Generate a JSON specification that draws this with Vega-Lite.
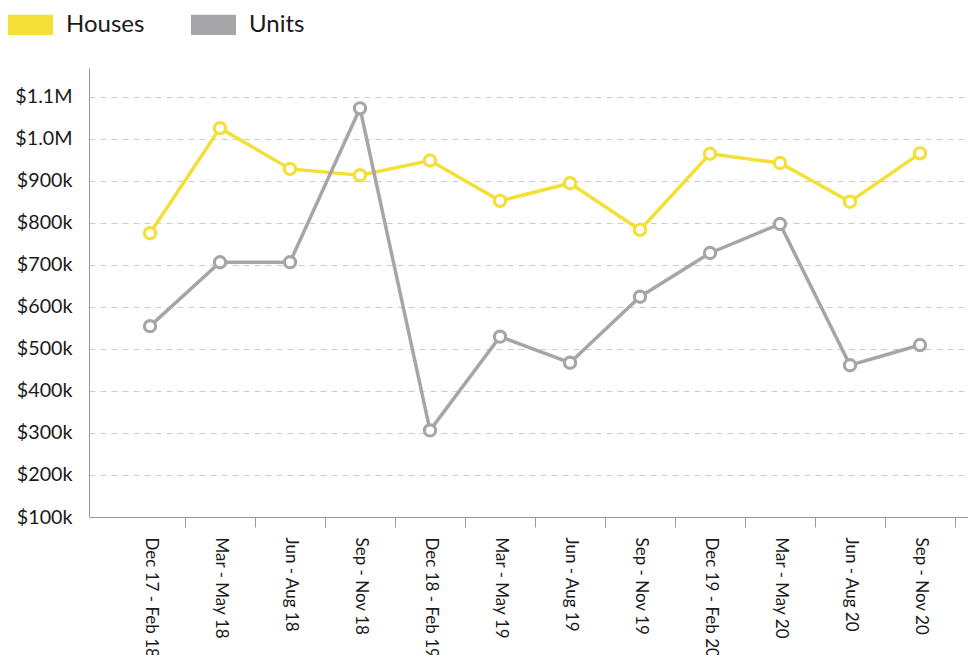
{
  "$schema": "https://vega.github.io/schema/vega-lite/v6.json",
  "autosize": {"type": "none"},
  "width": 879,
  "height": 449,
  "padding": {"left": 89, "top": 68, "right": 0, "bottom": 138},
  "background": "white",
  "config": {
    "view": {"stroke": null},
    "font": "Lato",
    "axis": {"labelFont": "Lato", "labelColor": "#1a1a1a"},
    "legend": {"labelFont": "Lato", "labelColor": "#1a1a1a"}
  },
  "data": {
    "values": [
      {"period": "Dec 17 - Feb 18", "type": "Houses", "price": 775000},
      {"period": "Mar - May 18", "type": "Houses", "price": 1025000},
      {"period": "Jun - Aug 18", "type": "Houses", "price": 928000},
      {"period": "Sep - Nov 18", "type": "Houses", "price": 913000},
      {"period": "Dec 18 - Feb 19", "type": "Houses", "price": 948000},
      {"period": "Mar - May 19", "type": "Houses", "price": 852000},
      {"period": "Jun - Aug 19", "type": "Houses", "price": 894000},
      {"period": "Sep - Nov 19", "type": "Houses", "price": 783000},
      {"period": "Dec 19 - Feb 20", "type": "Houses", "price": 964000},
      {"period": "Mar - May 20", "type": "Houses", "price": 942000},
      {"period": "Jun - Aug 20", "type": "Houses", "price": 850000},
      {"period": "Sep - Nov 20", "type": "Houses", "price": 965000},
      {"period": "Dec 17 - Feb 18", "type": "Units", "price": 554000},
      {"period": "Mar - May 18", "type": "Units", "price": 706000},
      {"period": "Jun - Aug 18", "type": "Units", "price": 706000},
      {"period": "Sep - Nov 18", "type": "Units", "price": 1072000},
      {"period": "Dec 18 - Feb 19", "type": "Units", "price": 306000},
      {"period": "Mar - May 19", "type": "Units", "price": 529000},
      {"period": "Jun - Aug 19", "type": "Units", "price": 467000},
      {"period": "Sep - Nov 19", "type": "Units", "price": 624000},
      {"period": "Dec 19 - Feb 20", "type": "Units", "price": 728000},
      {"period": "Mar - May 20", "type": "Units", "price": 797000},
      {"period": "Jun - Aug 20", "type": "Units", "price": 461000},
      {"period": "Sep - Nov 20", "type": "Units", "price": 509000}
    ]
  },
  "encoding": {
    "x": {
      "field": "period",
      "type": "ordinal",
      "sort": null,
      "scale": {"type": "band", "paddingInner": 0, "paddingOuter": 0.2786, "align": 0.667},
      "axis": {
        "title": null,
        "labelAngle": 90,
        "labelAlign": "left",
        "labelBaseline": "middle",
        "labelFontSize": 17,
        "labelPadding": 10,
        "tickSize": 10,
        "tickOffset": 35,
        "labelOffset": -35,
        "tickColor": "#999999",
        "domainColor": "#999999",
        "grid": false
      }
    },
    "y": {
      "field": "price",
      "type": "quantitative",
      "scale": {"domain": [100000, 1168000], "nice": false, "zero": false},
      "axis": {
        "title": null,
        "values": [100000, 200000, 300000, 400000, 500000, 600000, 700000, 800000, 900000, 1000000, 1100000],
        "labelExpr": "datum.value >= 1000000 ? '$' + format(datum.value / 1000000, '.1f') + 'M' : '$' + format(datum.value / 1000, 'd') + 'k'",
        "labelFontSize": 19.7,
        "labelPadding": 17,
        "ticks": false,
        "domainColor": "#999999",
        "grid": true,
        "gridColor": "#cccccc",
        "gridDash": [6, 5],
        "gridWidth": 1
      }
    },
    "color": {
      "field": "type",
      "type": "nominal",
      "scale": {"domain": ["Houses", "Units"], "range": ["#f3df36", "#a6a6a9"]},
      "legend": {
        "title": null,
        "orient": "none",
        "legendX": -81,
        "legendY": -66,
        "direction": "horizontal",
        "labelFontSize": 24,
        "symbolType": "M-1,-0.45L1,-0.45L1,0.45L-1,0.45Z",
        "symbolSize": 2025,
        "labelOffset": 13,
        "columnPadding": 46,
        "encode": {
          "symbols": {
            "update": {
              "fill": {"scale": "color", "field": "value"},
              "stroke": {"value": "transparent"},
              "strokeWidth": {"value": 0},
              "opacity": {"value": 1}
            }
          }
        }
      }
    }
  },
  "layer": [
    {"mark": {"type": "line", "strokeWidth": 3.5}},
    {"mark": {"type": "point", "shape": "circle", "filled": false, "fill": "white", "fillOpacity": 1, "opacity": 1, "strokeWidth": 3.2, "size": 125}}
  ]
}
